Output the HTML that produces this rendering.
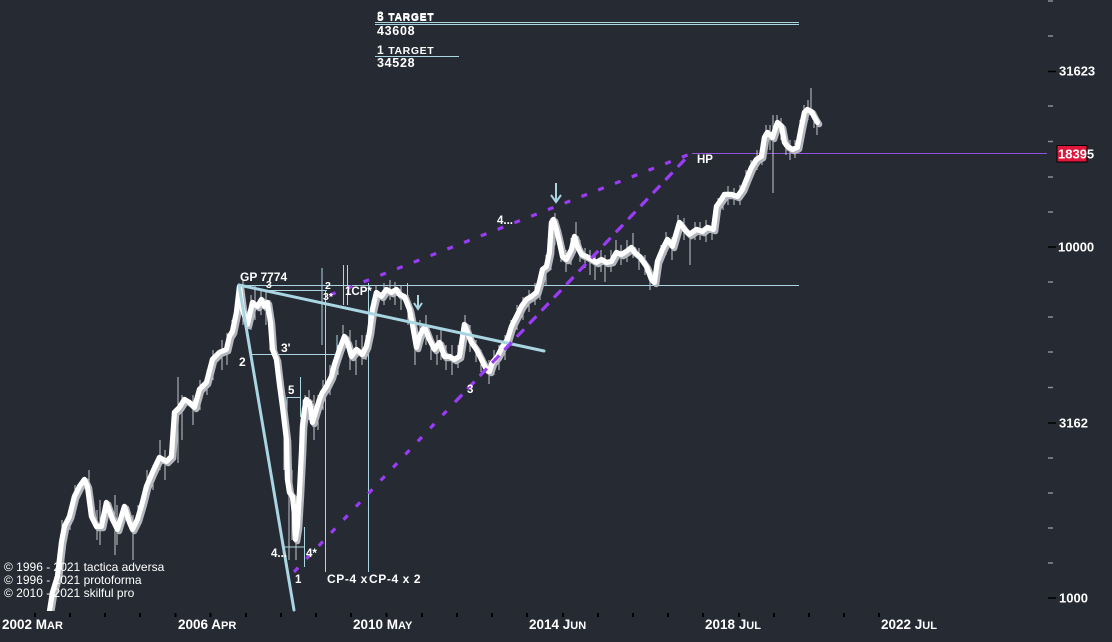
<!DOCTYPE html>
<html><head><meta charset="utf-8"><style>
html,body{margin:0;padding:0;background:#262a33;}
svg{display:block;}
text{font-family:"Liberation Sans",sans-serif;fill:#fff;}
.b{font-weight:bold;}
</style></head><body>
<svg width="1112" height="642" viewBox="0 0 1112 642" xmlns="http://www.w3.org/2000/svg">
<defs>
<clipPath id="c"><rect x="0" y="0" width="1112" height="611"/></clipPath>
<path id="p" d="M48,640 L50,612 L53,593 L58,577 L62,543 L65,527 L70,517 L75,497 L80,487 L85,480 L88,487 L92,517 L97,527 L102,527 L107,503 L113,520 L118,530 L125,507 L130,523 L133,530 L138,520 L143,503 L147,487 L153,473 L160,458 L167,462 L172,457 L175,413 L180,408 L185,400 L190,403 L195,408 L200,390 L207,383 L213,360 L220,353 L227,350 L230,337 L233,332 L237,313 L240,287 L243,310 L248,325 L253,303 L258,307 L262,300 L265,307 L268,303 L271,323 L273,350 L277,360 L280,385 L283,407 L287,440 L288,480 L290,493 L293,497 L295,515 L296,540 L298,527 L300,493 L302,453 L303,427 L305,410 L307,400 L311,407 L313,423 L317,410 L320,400 L323,393 L327,387 L332,377 L335,365 L340,350 L345,337 L348,343 L352,357 L357,350 L363,355 L367,347 L370,333 L373,310 L377,293 L382,297 L387,290 L392,293 L397,290 L400,295 L405,297 L410,310 L413,325 L417,348 L420,337 L425,327 L430,340 L435,350 L440,343 L445,357 L450,357 L455,360 L460,357 L465,325 L468,333 L472,343 L477,350 L482,360 L487,370 L490,372 L493,363 L498,357 L503,347 L508,340 L512,327 L517,317 L522,307 L527,300 L532,297 L537,293 L540,283 L543,270 L547,267 L550,253 L552,223 L554,220 L557,230 L560,243 L563,257 L567,260 L572,250 L575,237 L578,247 L582,255 L587,257 L592,260 L597,263 L602,260 L607,263 L612,262 L617,253 L622,255 L627,252 L632,248 L635,253 L640,257 L647,267 L652,280 L655,283 L658,262 L663,250 L668,240 L673,247 L680,223 L685,230 L690,235 L697,230 L703,232 L708,228 L714,230 L717,207 L722,200 L725,195 L732,195 L738,197 L743,190 L747,180 L752,168 L757,160 L762,157 L765,138 L768,133 L773,138 L778,123 L782,127 L785,143 L788,147 L793,150 L798,148 L802,127 L805,113 L808,110 L812,112 L815,118 L818,123"/>
</defs>
<rect width="1112" height="642" fill="#262a33"/>

<!-- top targets -->
<line x1="375" y1="22.5" x2="799" y2="22.5" stroke="#a9d6e2" stroke-width="1"/>
<line x1="375" y1="24.5" x2="799" y2="24.5" stroke="#a9d6e2" stroke-width="1"/>
<line x1="375" y1="56.5" x2="459" y2="56.5" stroke="#a9d6e2" stroke-width="1"/>
<text x="377" y="21" class="b" font-size="12" letter-spacing="0.6">5 <tspan font-size="10.5">TARGET</tspan></text>
<text x="377" y="20" class="b" font-size="12" letter-spacing="0.6">3 <tspan font-size="10.5">TARGET</tspan></text>
<text x="377" y="35" class="b" font-size="12.5" letter-spacing="0.7">43608</text>
<text x="377" y="54" class="b" font-size="12" letter-spacing="0.6">1 <tspan font-size="10.5">TARGET</tspan></text>
<text x="377" y="67" class="b" font-size="12.5" letter-spacing="0.7">34528</text>

<!-- right axis ticks -->
<g stroke-width="1.5">
<line x1="1048" y1="1" x2="1053" y2="1" stroke="#8a8d93"/>
<line x1="1048" y1="36" x2="1053" y2="36" stroke="#8a8d93"/>
<line x1="1048" y1="71.5" x2="1056" y2="71.5" stroke="#000"/>
<line x1="1048" y1="106" x2="1053" y2="106" stroke="#8a8d93"/>
<line x1="1048" y1="141.5" x2="1053" y2="141.5" stroke="#8a8d93"/>
<line x1="1048" y1="177" x2="1053" y2="177" stroke="#8a8d93"/>
<line x1="1048" y1="212" x2="1053" y2="212" stroke="#8a8d93"/>
<line x1="1048" y1="247" x2="1056" y2="247" stroke="#000"/>
<line x1="1048" y1="282" x2="1053" y2="282" stroke="#8a8d93"/>
<line x1="1048" y1="317" x2="1053" y2="317" stroke="#8a8d93"/>
<line x1="1048" y1="352" x2="1053" y2="352" stroke="#8a8d93"/>
<line x1="1048" y1="387.5" x2="1053" y2="387.5" stroke="#8a8d93"/>
<line x1="1048" y1="423" x2="1056" y2="423" stroke="#000"/>
<line x1="1048" y1="458" x2="1053" y2="458" stroke="#8a8d93"/>
<line x1="1048" y1="493" x2="1053" y2="493" stroke="#8a8d93"/>
<line x1="1048" y1="528" x2="1053" y2="528" stroke="#8a8d93"/>
<line x1="1048" y1="563" x2="1053" y2="563" stroke="#8a8d93"/>
<line x1="1048" y1="598" x2="1056" y2="598" stroke="#000"/>
</g>
<text x="1059" y="75.5" class="b" font-size="13">31623</text>
<text x="1058" y="251.5" class="b" font-size="13">10000</text>
<text x="1059" y="427.5" class="b" font-size="13">3162</text>
<text x="1059" y="602.5" class="b" font-size="13">1000</text>

<!-- 18395 line + badge -->
<line x1="692" y1="153.5" x2="1047" y2="153.5" stroke="#8f55d8" stroke-width="1"/>
<rect x="1057" y="145.5" width="30" height="16.5" fill="#e0173c" stroke="#000" stroke-width="1"/>
<text x="1058" y="158.5" class="b" font-size="13">18395</text>

<!-- x axis ticks -->
<g stroke="#000" stroke-width="2">
<line x1="35" y1="613" x2="35" y2="617"/><line x1="70" y1="613" x2="70" y2="617"/><line x1="105" y1="613" x2="105" y2="617"/><line x1="140" y1="613" x2="140" y2="617"/><line x1="175.5" y1="613" x2="175.5" y2="617"/><line x1="210.5" y1="613" x2="210.5" y2="617"/><line x1="246" y1="613" x2="246" y2="617"/><line x1="281" y1="613" x2="281" y2="617"/><line x1="316" y1="613" x2="316" y2="617"/><line x1="351" y1="613" x2="351" y2="617"/><line x1="386.5" y1="613" x2="386.5" y2="617"/><line x1="422" y1="613" x2="422" y2="617"/><line x1="457" y1="613" x2="457" y2="617"/><line x1="492" y1="613" x2="492" y2="617"/><line x1="527" y1="613" x2="527" y2="617"/><line x1="563" y1="613" x2="563" y2="617"/><line x1="598" y1="613" x2="598" y2="617"/><line x1="633" y1="613" x2="633" y2="617"/><line x1="668" y1="613" x2="668" y2="617"/><line x1="703" y1="613" x2="703" y2="617"/><line x1="739" y1="613" x2="739" y2="617"/><line x1="774" y1="613" x2="774" y2="617"/><line x1="809" y1="613" x2="809" y2="617"/><line x1="844" y1="613" x2="844" y2="617"/><line x1="879" y1="613" x2="879" y2="617"/>
</g>
<g font-size="13.5" class="b">
<text x="2" y="629" class="b">2002 M<tspan font-size="11">AR</tspan></text>
<text x="178" y="629" class="b">2006 A<tspan font-size="11">PR</tspan></text>
<text x="353" y="629" class="b">2010 M<tspan font-size="11">AY</tspan></text>
<text x="529" y="629" class="b">2014 J<tspan font-size="11">UN</tspan></text>
<text x="705" y="629" class="b">2018 J<tspan font-size="11">UL</tspan></text>
<text x="881" y="629" class="b">2022 J<tspan font-size="11">UL</tspan></text>
</g>

<!-- thin annotation lines -->
<g stroke="#a9d6e2" stroke-width="1" fill="none">
<line x1="240" y1="285.5" x2="799" y2="285.5"/>
<line x1="262" y1="290.5" x2="327" y2="290.5"/>
<line x1="322" y1="268" x2="322" y2="345"/>
<line x1="325.5" y1="290" x2="325.5" y2="572"/>
<line x1="343.5" y1="265" x2="343.5" y2="305"/>
<line x1="347.5" y1="265" x2="347.5" y2="305"/>
<line x1="368.5" y1="283" x2="368.5" y2="572"/>
<line x1="407.5" y1="283" x2="407.5" y2="300"/>
<line x1="337" y1="335" x2="337" y2="358"/>
<line x1="250" y1="354.5" x2="337" y2="354.5"/>
<line x1="287" y1="397.5" x2="300" y2="397.5"/>
<line x1="287" y1="397" x2="287" y2="480"/>
<line x1="300.5" y1="377" x2="300.5" y2="417"/>
<line x1="283" y1="547" x2="304" y2="547"/>
<line x1="304.5" y1="527" x2="304.5" y2="567"/>
</g>

<!-- wicks -->
<g stroke="#c4c6ca" stroke-width="1">
<line x1="62" y1="520" x2="62" y2="560"/><line x1="70" y1="505" x2="70" y2="530"/><line x1="75" y1="485" x2="75" y2="515"/><line x1="89" y1="470" x2="89" y2="495"/><line x1="100" y1="500" x2="100" y2="545"/><line x1="97" y1="510" x2="97" y2="540"/><line x1="115" y1="495" x2="115" y2="555"/><line x1="117" y1="505" x2="117" y2="545"/><line x1="133" y1="515" x2="133" y2="560"/><line x1="138" y1="505" x2="138" y2="530"/><line x1="147" y1="470" x2="147" y2="500"/><line x1="153" y1="465" x2="153" y2="490"/><line x1="160" y1="440" x2="160" y2="470"/><line x1="165" y1="450" x2="165" y2="480"/><line x1="178" y1="377" x2="178" y2="463"/><line x1="182" y1="395" x2="182" y2="440"/><line x1="193" y1="395" x2="193" y2="425"/><line x1="200" y1="380" x2="200" y2="410"/><line x1="207" y1="370" x2="207" y2="395"/><line x1="213" y1="350" x2="213" y2="380"/><line x1="222" y1="340" x2="222" y2="370"/><line x1="227" y1="333" x2="227" y2="365"/><line x1="232" y1="320" x2="232" y2="345"/><line x1="243" y1="280" x2="243" y2="325"/><line x1="251" y1="295" x2="251" y2="330"/><line x1="255" y1="285" x2="255" y2="320"/><line x1="261" y1="290" x2="261" y2="315"/><line x1="266" y1="290" x2="266" y2="325"/><line x1="270" y1="300" x2="270" y2="350"/><line x1="276" y1="345" x2="276" y2="375"/><line x1="282" y1="380" x2="282" y2="420"/><line x1="284" y1="400" x2="284" y2="470"/><line x1="289" y1="450" x2="289" y2="560"/><line x1="292" y1="470" x2="292" y2="540"/><line x1="296" y1="500" x2="296" y2="560"/><line x1="300" y1="470" x2="300" y2="520"/><line x1="305" y1="395" x2="305" y2="430"/><line x1="309" y1="390" x2="309" y2="420"/><line x1="314" y1="395" x2="314" y2="440"/><line x1="318" y1="395" x2="318" y2="430"/><line x1="323" y1="380" x2="323" y2="410"/><line x1="330" y1="365" x2="330" y2="395"/><line x1="338" y1="345" x2="338" y2="375"/><line x1="343" y1="325" x2="343" y2="350"/><line x1="350" y1="330" x2="350" y2="370"/><line x1="356" y1="340" x2="356" y2="375"/><line x1="362" y1="335" x2="362" y2="365"/><line x1="366" y1="335" x2="366" y2="360"/><line x1="372" y1="300" x2="372" y2="340"/><line x1="376" y1="285" x2="376" y2="310"/><line x1="384" y1="283" x2="384" y2="305"/><line x1="390" y1="280" x2="390" y2="300"/><line x1="395" y1="282" x2="395" y2="305"/><line x1="401" y1="285" x2="401" y2="310"/><line x1="408" y1="295" x2="408" y2="325"/><line x1="415" y1="335" x2="415" y2="365"/><line x1="420" y1="320" x2="420" y2="350"/><line x1="426" y1="315" x2="426" y2="345"/><line x1="431" y1="335" x2="431" y2="360"/><line x1="437" y1="335" x2="437" y2="365"/><line x1="441" y1="330" x2="441" y2="360"/><line x1="446" y1="345" x2="446" y2="370"/><line x1="452" y1="345" x2="452" y2="375"/><line x1="458" y1="345" x2="458" y2="368"/><line x1="465" y1="315" x2="465" y2="340"/><line x1="470" y1="325" x2="470" y2="352"/><line x1="476" y1="340" x2="476" y2="362"/><line x1="481" y1="350" x2="481" y2="372"/><line x1="489" y1="360" x2="489" y2="384"/><line x1="494" y1="350" x2="494" y2="375"/><line x1="499" y1="345" x2="499" y2="370"/><line x1="505" y1="335" x2="505" y2="360"/><line x1="511" y1="320" x2="511" y2="345"/><line x1="517" y1="305" x2="517" y2="330"/><line x1="523" y1="297" x2="523" y2="320"/><line x1="529" y1="290" x2="529" y2="312"/><line x1="535" y1="283" x2="535" y2="305"/><line x1="540" y1="270" x2="540" y2="300"/><line x1="546" y1="255" x2="546" y2="285"/><line x1="551" y1="218" x2="551" y2="270"/><line x1="555" y1="213" x2="555" y2="245"/><line x1="561" y1="235" x2="561" y2="262"/><line x1="566" y1="250" x2="566" y2="272"/><line x1="571" y1="238" x2="571" y2="265"/><line x1="576" y1="222" x2="576" y2="250"/><line x1="580" y1="240" x2="580" y2="262"/><line x1="585" y1="248" x2="585" y2="268"/><line x1="590" y1="250" x2="590" y2="275"/><line x1="595" y1="255" x2="595" y2="280"/><line x1="601" y1="250" x2="601" y2="272"/><line x1="605" y1="255" x2="605" y2="282"/><line x1="611" y1="250" x2="611" y2="272"/><line x1="616" y1="240" x2="616" y2="262"/><line x1="621" y1="245" x2="621" y2="265"/><line x1="627" y1="240" x2="627" y2="262"/><line x1="633" y1="233" x2="633" y2="258"/><line x1="639" y1="248" x2="639" y2="270"/><line x1="645" y1="255" x2="645" y2="275"/><line x1="650" y1="270" x2="650" y2="290"/><line x1="655" y1="275" x2="655" y2="287"/><line x1="661" y1="245" x2="661" y2="270"/><line x1="666" y1="232" x2="666" y2="255"/><line x1="672" y1="237" x2="672" y2="260"/><line x1="678" y1="215" x2="678" y2="238"/><line x1="684" y1="218" x2="684" y2="240"/><line x1="690" y1="237" x2="690" y2="265"/><line x1="695" y1="222" x2="695" y2="240"/><line x1="700" y1="222" x2="700" y2="240"/><line x1="706" y1="220" x2="706" y2="242"/><line x1="712" y1="222" x2="712" y2="240"/><line x1="718" y1="198" x2="718" y2="218"/><line x1="723" y1="192" x2="723" y2="210"/><line x1="728" y1="186" x2="728" y2="205"/><line x1="734" y1="188" x2="734" y2="205"/><line x1="740" y1="185" x2="740" y2="205"/><line x1="746" y1="170" x2="746" y2="192"/><line x1="751" y1="160" x2="751" y2="180"/><line x1="757" y1="150" x2="757" y2="170"/><line x1="762" y1="148" x2="762" y2="165"/><line x1="766" y1="125" x2="766" y2="145"/><line x1="770" y1="125" x2="770" y2="150"/><line x1="773" y1="115" x2="773" y2="193"/><line x1="777" y1="115" x2="777" y2="135"/><line x1="781" y1="118" x2="781" y2="140"/><line x1="786" y1="135" x2="786" y2="155"/><line x1="790" y1="140" x2="790" y2="160"/><line x1="795" y1="140" x2="795" y2="158"/><line x1="800" y1="120" x2="800" y2="140"/><line x1="804" y1="105" x2="804" y2="125"/><line x1="808" y1="100" x2="808" y2="120"/><line x1="811" y1="88" x2="811" y2="113"/><line x1="814" y1="110" x2="814" y2="128"/><line x1="817" y1="115" x2="817" y2="135"/>
</g>

<!-- price line -->
<g clip-path="url(#c)" fill="none" stroke-linejoin="round" stroke-linecap="round">
<use href="#p" stroke="#b4b7bd" stroke-width="6" transform="translate(1.3,1.3)"/>
<use href="#p" stroke="#ffffff" stroke-width="5.2" transform="translate(-0.6,-0.6)"/>
</g>

<!-- thick light blue lines -->
<g stroke="#a9d6e2" stroke-width="3" stroke-linecap="round">
<line x1="239" y1="285" x2="294" y2="610"/>
<line x1="239" y1="285" x2="544" y2="351"/>
</g>

<!-- purple dotted lines -->
<g stroke="#9b3cf5" stroke-width="3.2" stroke-dasharray="6 12" fill="none">
<line x1="294" y1="572" x2="690" y2="154"/>
<line x1="330" y1="295" x2="690" y2="154"/>
<line x1="458" y1="399" x2="690" y2="154"/>
</g>

<!-- arrows -->
<g stroke="#a9d6e2" stroke-width="2" fill="none">
<line x1="556" y1="183" x2="556" y2="201"/>
<polyline points="551,195 556,202 561,195"/>
<line x1="418" y1="295" x2="418" y2="308"/>
<polyline points="414,303 418,309 422,303"/>
</g>

<!-- annotation labels -->
<g class="b" font-size="12">
<text x="240" y="281" class="b">GP 7774</text>
<text x="266" y="288" class="b" font-size="10.5">3</text>
<text x="325" y="289" class="b" font-size="10.5">2</text>
<text x="323" y="300" class="b" font-size="10.5">3*</text>
<text x="345" y="295" class="b" font-size="11.5">1CP*</text>
<text x="239" y="366" class="b">2</text>
<text x="281" y="352" class="b">3'</text>
<text x="288" y="394" class="b" font-size="11.5">5</text>
<text x="302" y="408" class="b" font-size="11.5">5*</text>
<text x="271" y="557" class="b" font-size="11.5">4...</text>
<text x="306" y="557" class="b" font-size="11.5">4*</text>
<text x="295" y="583" class="b" font-size="11.5">1</text>
<text x="327" y="583" class="b" font-size="12" letter-spacing="0.6">CP-4 x</text>
<text x="369" y="583" class="b" font-size="12" letter-spacing="0.6">CP-4 x 2</text>
<text x="467" y="393" class="b" font-size="11.5">3</text>
<text x="497" y="224" class="b" font-size="11.5">4...</text>
<text x="697" y="163" class="b" font-size="11.5">HP</text>
</g>

<!-- copyright -->
<g font-size="12">
<text x="4" y="571">© 1996 - 2021 tactica adversa</text>
<text x="4" y="584">© 1996 - 2021 protoforma</text>
<text x="4" y="597">© 2010 - 2021 skilful pro</text>
</g>
</svg>
</body></html>
